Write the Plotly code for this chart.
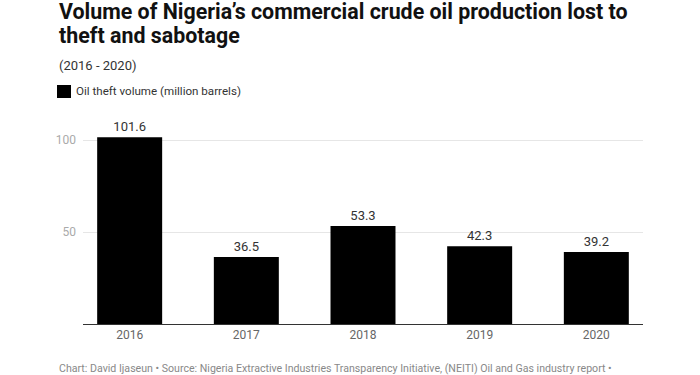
import plotly.graph_objects as go

years = ["2016", "2017", "2018", "2019", "2020"]
theft_volume = [101.6, 36.5, 53.3, 42.3, 39.2]
y_ticks = [50, 100]

W, H = 700, 375
L, R, T, B = 83, 57, 131, 51
pw, ph = W - L - R, H - T - B

def px(x):
    return (x - L) / pw

def py(y):
    return (H - B - y) / ph

fig = go.Figure()
fig.add_trace(go.Bar(
    x=years, y=theft_volume,
    width=0.557,
    marker=dict(color="#000000", line=dict(width=0)),
    text=[f"{v:.1f}" for v in theft_volume],
    textposition="outside",
    textfont=dict(family="Roboto", size=13, color="#333333"),
    cliponaxis=False,
    name="Oil theft volume (million barrels)",
    showlegend=False,
))

fig.update_layout(
    width=W, height=H,
    margin=dict(l=L, r=R, t=T, b=B),
    paper_bgcolor="white", plot_bgcolor="white",
    font=dict(family="Roboto", color="#333333"),
    xaxis=dict(
        type="category", range=[-0.4, 4.4],
        showline=True, linecolor="#333333", linewidth=1,
        ticks="", showgrid=False,
        tickfont=dict(family="Roboto", size=12, color="#666666"),
        fixedrange=True,
    ),
    yaxis=dict(
        range=[0, 105], tickvals=y_ticks,
        showgrid=True, gridcolor="#e6e6e6", gridwidth=1,
        zeroline=False, showline=False, ticks="",
        tickfont=dict(family="Roboto", size=12, color="#aaaaaa"),
        ticklabelstandoff=6,
        fixedrange=True,
    ),
    showlegend=False,
)

title_lines = ["Volume of Nigeria’s commercial crude oil production lost to", "theft and sabotage"]
for i, line in enumerate(title_lines):
    fig.add_annotation(
        text=f"<b>{line}</b>", xref="paper", yref="paper",
        x=px(57), y=py(11.5 + 24 * i), xanchor="left", yanchor="middle", showarrow=False,
        font=dict(family="Roboto", size=21.4, color="#111111"),
    )

fig.add_annotation(
    text="(2016 - 2020)", xref="paper", yref="paper",
    x=px(57), y=py(66), xanchor="left", yanchor="middle", showarrow=False,
    font=dict(family="Roboto", size=13, color="#333333"),
)
fig.add_shape(
    type="rect", xref="paper", yref="paper",
    x0=px(57), x1=px(71), y0=py(85), y1=py(98),
    fillcolor="#000000", line=dict(width=0),
)
fig.add_annotation(
    text="Oil theft volume (million barrels)", xref="paper", yref="paper",
    x=px(74), y=py(91.5), xanchor="left", yanchor="middle", showarrow=False,
    font=dict(family="Roboto", size=11.6, color="#333333"),
)
fig.add_annotation(
    text="Chart: David Ijaseun • Source: Nigeria Extractive Industries Transparency Initiative, (NEITI) Oil and Gas industry report •",
    xref="paper", yref="paper",
    x=px(57), y=py(368), xanchor="left", yanchor="middle", showarrow=False,
    font=dict(family="Roboto", size=10.6, color="#888888"),
)

fig.write_html(
    "out.html",
    config={"displayModeBar": False},
    post_script="document.body.style.margin='0px';document.body.style.overflow='hidden';",
)
